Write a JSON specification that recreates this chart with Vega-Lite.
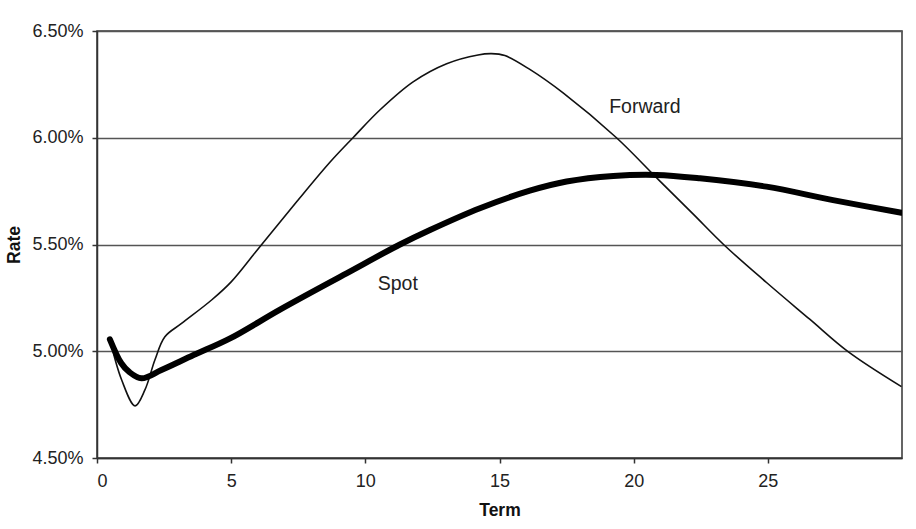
{
  "$schema": "https://vega.github.io/schema/vega-lite/v6.json",
  "width": 805,
  "height": 427,
  "autosize": "none",
  "padding": {"left": 97, "top": 31, "right": 14, "bottom": 71},
  "background": "white",
  "config": {
    "font": "Liberation Sans",
    "view": {"stroke": "#333", "strokeWidth": 1.5},
    "axis": {
      "labelFont": "Liberation Sans",
      "titleFont": "Liberation Sans",
      "labelColor": "#222",
      "titleColor": "#111",
      "domainColor": "#333",
      "domainWidth": 1.5,
      "tickColor": "#333",
      "tickWidth": 1.5,
      "tickSize": 5,
      "gridColor": "#555",
      "gridWidth": 1.5
    }
  },
  "datasets": {
    "curves": [
      {"series": "Spot", "term": 0.48, "rate": 5.056},
      {"series": "Spot", "term": 0.9, "rate": 4.945},
      {"series": "Spot", "term": 1.2, "rate": 4.903},
      {"series": "Spot", "term": 1.66, "rate": 4.873},
      {"series": "Spot", "term": 2.4, "rate": 4.912},
      {"series": "Spot", "term": 3.6, "rate": 4.982},
      {"series": "Spot", "term": 4.96, "rate": 5.06},
      {"series": "Spot", "term": 6.82, "rate": 5.195},
      {"series": "Spot", "term": 9.3, "rate": 5.365},
      {"series": "Spot", "term": 11.29, "rate": 5.5},
      {"series": "Spot", "term": 12.41, "rate": 5.568},
      {"series": "Spot", "term": 14.27, "rate": 5.67},
      {"series": "Spot", "term": 16.13, "rate": 5.752},
      {"series": "Spot", "term": 17.5, "rate": 5.795},
      {"series": "Spot", "term": 19.24, "rate": 5.821},
      {"series": "Spot", "term": 20.85, "rate": 5.826},
      {"series": "Spot", "term": 22.47, "rate": 5.81},
      {"series": "Spot", "term": 24.95, "rate": 5.771},
      {"series": "Spot", "term": 27.43, "rate": 5.708},
      {"series": "Spot", "term": 29.98, "rate": 5.649},
      {"series": "Forward", "term": 0.48, "rate": 5.056},
      {"series": "Forward", "term": 0.92, "rate": 4.865},
      {"series": "Forward", "term": 1.42, "rate": 4.744},
      {"series": "Forward", "term": 1.79, "rate": 4.82},
      {"series": "Forward", "term": 2.16, "rate": 4.96},
      {"series": "Forward", "term": 2.53, "rate": 5.068},
      {"series": "Forward", "term": 3.15, "rate": 5.13},
      {"series": "Forward", "term": 4.27, "rate": 5.24},
      {"series": "Forward", "term": 5.0, "rate": 5.325},
      {"series": "Forward", "term": 6.07, "rate": 5.49},
      {"series": "Forward", "term": 7.44, "rate": 5.7},
      {"series": "Forward", "term": 8.68, "rate": 5.885},
      {"series": "Forward", "term": 9.54, "rate": 6.0},
      {"series": "Forward", "term": 10.54, "rate": 6.13},
      {"series": "Forward", "term": 11.78, "rate": 6.262},
      {"series": "Forward", "term": 13.03, "rate": 6.347},
      {"series": "Forward", "term": 14.2, "rate": 6.388},
      {"series": "Forward", "term": 14.7, "rate": 6.394},
      {"series": "Forward", "term": 15.2, "rate": 6.385},
      {"series": "Forward", "term": 16.13, "rate": 6.32},
      {"series": "Forward", "term": 17.37, "rate": 6.21},
      {"series": "Forward", "term": 19.36, "rate": 6.0},
      {"series": "Forward", "term": 20.85, "rate": 5.813},
      {"series": "Forward", "term": 22.22, "rate": 5.642},
      {"series": "Forward", "term": 23.35, "rate": 5.5},
      {"series": "Forward", "term": 24.95, "rate": 5.322},
      {"series": "Forward", "term": 26.56, "rate": 5.15},
      {"series": "Forward", "term": 27.99, "rate": 4.998},
      {"series": "Forward", "term": 29.98, "rate": 4.834}
    ],
    "labels": [
      {"label": "Forward", "term": 20.42, "rate": 6.144},
      {"label": "Spot", "term": 11.21, "rate": 5.315}
    ]
  },
  "layer": [
    {
      "data": {"name": "curves"},
      "transform": [{"filter": "datum.series === 'Forward'"}],
      "mark": {"type": "line", "interpolate": "catmull-rom", "color": "#111", "strokeWidth": 1.6, "clip": true},
      "encoding": {
        "x": {
          "field": "term", "type": "quantitative",
          "scale": {"domain": [0, 30], "nice": false},
          "axis": {
            "title": "Term", "values": [0, 5, 10, 15, 20, 25], "grid": false,
            "labelFontSize": 18, "labelPadding": 9,
            "titleFontSize": 17.5, "titleFontWeight": "bold", "titlePadding": 11
          }
        },
        "y": {
          "field": "rate", "type": "quantitative",
          "scale": {"domain": [4.5, 6.5], "nice": false, "zero": false},
          "axis": {
            "title": "Rate", "values": [4.5, 5, 5.5, 6, 6.5], "grid": true,
            "labelExpr": "format(datum.value, '.2f') + '%'",
            "labelFontSize": 18, "labelPadding": 9,
            "titleFontSize": 17.5, "titleFontWeight": "bold", "titlePadding": 8
          }
        }
      }
    },
    {
      "data": {"name": "curves"},
      "transform": [{"filter": "datum.series === 'Spot'"}],
      "mark": {"type": "line", "interpolate": "catmull-rom", "color": "#000", "strokeWidth": 6, "strokeCap": "round", "clip": true},
      "encoding": {
        "x": {"field": "term", "type": "quantitative"},
        "y": {"field": "rate", "type": "quantitative"}
      }
    },
    {
      "data": {"name": "labels"},
      "mark": {"type": "text", "fontSize": 19.5, "color": "#222", "font": "Liberation Sans"},
      "encoding": {
        "x": {"field": "term", "type": "quantitative"},
        "y": {"field": "rate", "type": "quantitative"},
        "text": {"field": "label"}
      }
    }
  ]
}
